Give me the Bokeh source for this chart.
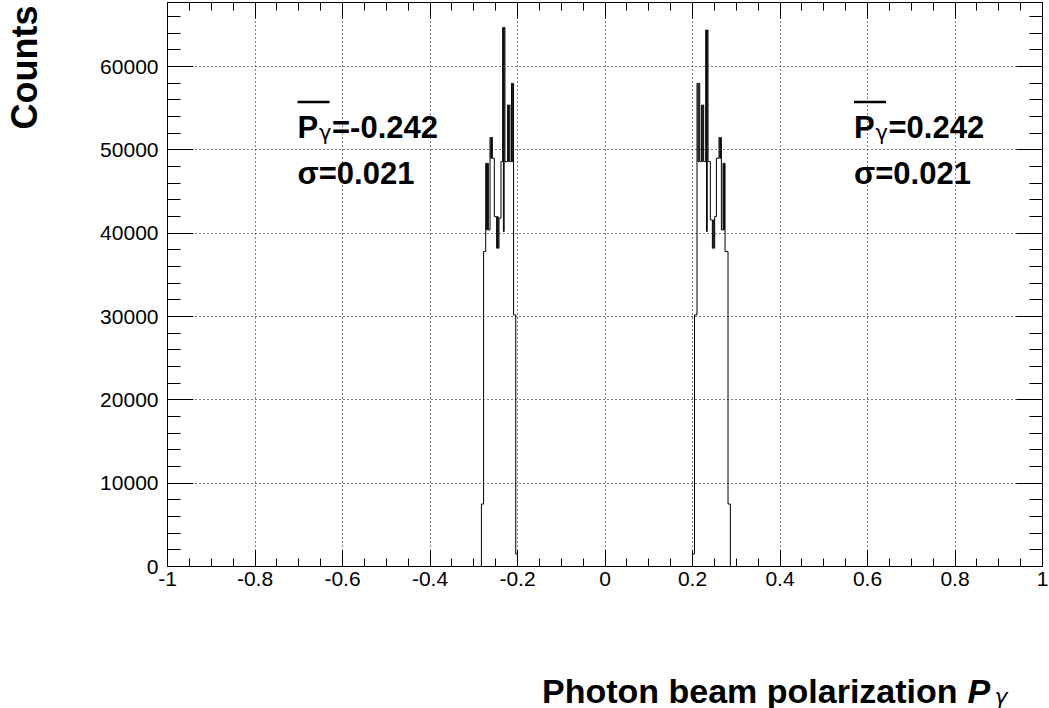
import numpy as np
from bokeh.plotting import figure
from bokeh.layouts import column, row
from bokeh.models import (Label, LinearAxis, SingleIntervalTicker,
                          CustomJSTickFormatter)
from bokeh.embed import file_html
from bokeh.resources import INLINE

# ---------------- data ----------------
left_edges = [-0.2825, -0.2775, -0.2727, -0.2707, -0.2687, -0.2666, -0.2628,
              -0.2610, -0.2593, -0.2575, -0.2530, -0.2477, -0.2459, -0.2441,
              -0.2423, -0.2378, -0.2340, -0.2322, -0.2305, -0.2287, -0.2226,
              -0.2208, -0.2191, -0.2173, -0.2136, -0.2121, -0.2105, -0.2090,
              -0.2040, -0.2000]
left_counts = [7500, 37800, 48400, 40400, 48400, 40400, 51500, 49000, 51500,
               49000, 42000, 38200, 42000, 38200, 41800, 48600, 64700, 40200,
               64700, 48600, 55400, 48600, 55400, 48600, 58000, 48600, 58000,
               30200, 1500]

right_edges = [0.2000, 0.2045, 0.2103, 0.2124, 0.2144, 0.2165, 0.2203, 0.2221,
               0.2238, 0.2256, 0.2302, 0.2320, 0.2337, 0.2355, 0.2408, 0.2454,
               0.2472, 0.2490, 0.2507, 0.2546, 0.2606, 0.2624, 0.2642, 0.2660,
               0.2698, 0.2713, 0.2729, 0.2744, 0.2812, 0.2866]
right_counts = [1500, 30200, 58000, 48600, 58000, 48600, 55400, 48600, 55400,
                48600, 64400, 40200, 64400, 48600, 41600, 38200, 41600, 38200,
                42000, 49000, 51500, 49000, 51500, 40400, 48400, 40400, 48400,
                37800, 7500]

mean_left, mean_right, sigma = "-0.242", "0.242", "0.021"
x_title = "Photon beam polarization"
y_title = "Counts"

x_start, x_end = -1.0, 1.0
y_start, y_end = 0, 67700

# ---------------- layout ----------------
W, H = 1049, 708
WL = 60                               # width of the left strip (y title)
H1 = 600                              # height of the main figure
FL, FR, FT, FB = 167, 1042, 2, 566    # frame box in page pixels

FONT = "Liberation Sans"

p = figure(width=W - WL, height=H1, x_range=(x_start, x_end), y_range=(y_start, y_end),
           output_backend="svg", toolbar_location=None,
           min_border_left=FL - WL, min_border_right=W - FR,
           min_border_top=FT, min_border_bottom=H1 - FB)
p.background_fill_color = "white"
p.border_fill_color = "white"
p.outline_line_color = "black"
p.outline_line_width = 1

xt = SingleIntervalTicker(interval=0.2, num_minor_ticks=4)
yt = SingleIntervalTicker(interval=10000, num_minor_ticks=5)
xfmt = CustomJSTickFormatter(code="return (Math.round(tick*10)/10).toString();")
yfmt = CustomJSTickFormatter(code="return tick.toFixed(0);")

xa = p.xaxis[0]
xa.ticker = xt
xa.formatter = xfmt
xa.major_tick_in = 16
xa.major_tick_out = 0
xa.minor_tick_in = 8
xa.minor_tick_out = 0
xa.major_label_standoff = 5
xa.major_label_text_font = FONT
xa.major_label_text_font_size = "21px"
xa.major_label_text_color = "black"
xa.axis_line_color = "black"
xa.major_tick_line_color = "black"
xa.minor_tick_line_color = "black"

ya = p.yaxis[0]
ya.ticker = yt
ya.formatter = yfmt
ya.major_tick_in = 26
ya.major_tick_out = 0
ya.minor_tick_in = 13
ya.minor_tick_out = 0
ya.major_label_standoff = 9
ya.major_label_text_font = FONT
ya.major_label_text_font_size = "21px"
ya.major_label_text_color = "black"
ya.axis_line_color = "black"
ya.major_tick_line_color = "black"
ya.minor_tick_line_color = "black"

for g, t in ((p.xgrid[0], xt), (p.ygrid[0], yt)):
    g.ticker = t
    g.grid_line_color = "black"
    g.grid_line_width = 1
    g.grid_line_dash = "1 3"

top = LinearAxis(ticker=xt, major_tick_in=16, major_tick_out=0, minor_tick_in=8,
                 minor_tick_out=0, major_label_text_font_size="0px",
                 major_label_text_color=None,
                 major_label_standoff=0, axis_line_color="black")
right = LinearAxis(ticker=yt, major_tick_in=26, major_tick_out=0, minor_tick_in=13,
                   minor_tick_out=0, major_label_text_font_size="0px",
                   major_label_text_color=None,
                   major_label_standoff=0, axis_line_color="black")
p.add_layout(top, "above")
p.add_layout(right, "right")

# ---------------- histograms ----------------
for edges, counts in ((left_edges, left_counts), (right_edges, right_counts)):
    xs = np.repeat(np.array(edges), 2)
    ys = np.concatenate([[0], np.repeat(np.array(counts), 2), [0]])
    p.line(xs, ys, line_color="black", line_width=1)

# ---------------- texts inside the frame ----------------
def X(px):
    return x_start + (px - FL) * (x_end - x_start) / (FR - FL)

def Y(py):
    return y_start + (FB - py) * (y_end - y_start) / (FB - FT)

def lab(fig, x, y, text, size, style="bold", align="left", font=FONT, angle=0.0):
    fig.add_layout(Label(x=x, y=y, text=text, text_font=font,
                         text_font_size=size, text_font_style=style,
                         text_align=align, text_baseline="alphabetic",
                         text_color="black", angle=angle))

for x0, mean in ((297, mean_left), (853.5, mean_right)):
    lab(p, X(x0), Y(126.7), "P", "31px")
    lab(p, X(x0 + 21.5), Y(132.5), "γ", "21px", style="normal", font="DejaVu Sans")
    lab(p, X(x0 + 34.5), Y(126.7), "=" + mean, "31px")
    lab(p, X(x0), Y(173.3), "σ=" + sigma, "31px")
    p.segment(x0=[X(x0)], y0=[Y(101.5)], x1=[X(x0 + 32)], y1=[Y(101.5)],
              line_color="black", line_width=2.5)

def bare(fig):
    fig.outline_line_color = None
    fig.background_fill_color = "white"
    fig.border_fill_color = "white"
    fig.grid.visible = False
    return fig

# ---------------- x-axis title strip below (frame aligned with main) ----------------
H2 = H - H1
q = bare(figure(width=W - WL, height=H2, x_range=(FL, FR), y_range=(H2, 0),
                output_backend="svg", toolbar_location=None,
                x_axis_location=None, y_axis_location=None,
                min_border_left=FL - WL, min_border_right=W - FR,
                min_border_top=0, min_border_bottom=0))

lab(q, 541.5, 690 - H1, x_title, "34px")
lab(q, 967, 690 - H1, "P", "34px", style="bold italic")
lab(q, 994, 696 - H1, "γ", "22px", style="italic", font="DejaVu Sans")

# ---------------- y-axis title strip on the left ----------------
s = bare(figure(width=WL, height=H, x_range=(0, WL), y_range=(FB, FT),
                output_backend="svg", toolbar_location=None,
                x_axis_location=None, y_axis_location=None,
                min_border_left=0, min_border_right=0,
                min_border_top=FT, min_border_bottom=H - FB))
lab(s, 24, 5, y_title, "36px", align="right", angle=np.pi / 2)

page = row(s, column(p, q, spacing=0), spacing=0)
open("out.html", "w").write(file_html(page, INLINE))
